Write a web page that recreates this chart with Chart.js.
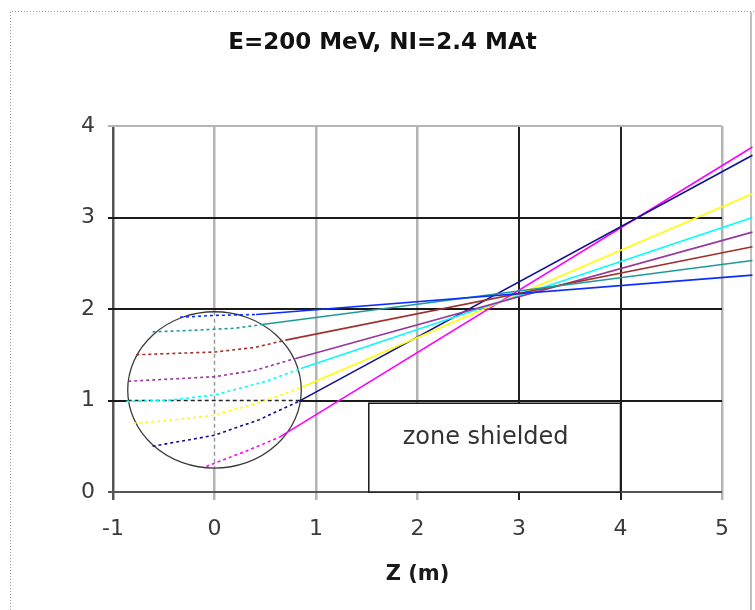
<!DOCTYPE html>
<html>
<head>
<meta charset="utf-8">
<title>E=200 MeV, NI=2.4 MAt</title>
<script src="https://cdn.jsdelivr.net/npm/chart.js@4.4.1/dist/chart.umd.min.js"></script>
<style>
    html, body { margin: 0; padding: 0; background: #ffffff; }
    #wrap { width: 755px; height: 610px; }
</style>
</head>
<body>
<div id="wrap"><canvas id="trackChart" width="755" height="610"></canvas></div>
<script>
// ===================================
// DATA
// each track: points inside the magnet (dashed), last point = far end
// ===================================
const X_TICKS = [-1, 0, 1, 2, 3, 4, 5];
const Y_TICKS = [0, 1, 2, 3, 4];

const TRACK_BLUE    = [[-0.34, 1.91], [0.00, 1.93], [0.41, 1.94], [5.30, 2.37]];
const TRACK_TEAL    = [[-0.61, 1.75], [-0.15, 1.77], [0.20, 1.79], [0.47, 1.83], [5.30, 2.53]];
const TRACK_BROWN   = [[-0.77, 1.50], [0.00, 1.53], [0.40, 1.58], [0.70, 1.66], [5.30, 2.68]];
const TRACK_PURPLE  = [[-0.85, 1.21], [0.00, 1.26], [0.40, 1.33], [0.80, 1.46], [5.30, 2.84]];
const TRACK_CYAN    = [[-0.87, 0.99], [-0.47, 1.00], [0.00, 1.06], [0.51, 1.21], [0.85, 1.35], [5.30, 3.00]];
const TRACK_YELLOW  = [[-0.80, 0.75], [-0.38, 0.79], [0.00, 0.84], [0.51, 1.00], [0.87, 1.15], [5.30, 3.26]];
const TRACK_NAVY    = [[-0.61, 0.50], [0.00, 0.62], [0.44, 0.79], [0.83, 0.99], [5.30, 3.68]];
const TRACK_MAGENTA = [[-0.08, 0.28], [0.34, 0.46], [0.64, 0.60], [5.30, 3.77]];

const TRACKS = [TRACK_BLUE, TRACK_TEAL, TRACK_BROWN, TRACK_PURPLE,
                TRACK_CYAN, TRACK_YELLOW, TRACK_NAVY, TRACK_MAGENTA];
const TRACK_COLORS = ['#0a2cff', '#1f9a9a', '#a0302c', '#98389c',
                      '#00ffff', '#ffff00', '#101090', '#ff00ff'];

// magnet (circle) and shielded zone, in metres
const MAGNET_CENTER = [0, 1.115];
const MAGNET_RADIUS = 0.855;
const ZONE_X = [1.52, 4.0];
const ZONE_Y = [0, 0.97];
const ZONE_TEXT = 'zone shielded';

const FONT = 'DejaVu Sans';

// grid colours: some lines black, others light gray
function xGridColor(v) {
    if (v === -1) return '#555555';
    if (v === 3 || v === 4) return '#222222';
    return '#b4b4b4';
}
function yGridColor(v) {
    if (v === 0) return '#555555';
    if (v === 4) return '#b4b4b4';
    return '#1a1a1a';
}

// ===================================
// Plugin: frame, magnet circle, shielded zone
// ===================================
const drawingPlugin = {
    id: 'drawings',
    beforeDraw(chart) {
        const ctx = chart.ctx;
        ctx.save();
        ctx.fillStyle = '#ffffff';
        ctx.fillRect(0, 0, chart.width, chart.height);
        // dotted outer frame (top + left), plain gray right edge
        ctx.strokeStyle = '#9a9a9a';
        ctx.lineWidth = 1;
        ctx.setLineDash([1, 2]);
        ctx.beginPath();
        ctx.moveTo(10.5, chart.height);
        ctx.lineTo(10.5, 11.5);
        ctx.lineTo(chart.width, 11.5);
        ctx.stroke();
        ctx.setLineDash([]);
        ctx.strokeStyle = '#c0c0c0';
        ctx.lineWidth = 2;
        ctx.beginPath();
        ctx.moveTo(751, 12);
        ctx.lineTo(751, chart.height);
        ctx.stroke();
        ctx.restore();
    },
    beforeDatasetsDraw(chart) {
        const ctx = chart.ctx;
        const xs = chart.scales.x;
        const ys = chart.scales.y;

        // shielded zone box
        const bx0 = xs.getPixelForValue(ZONE_X[0]);
        const bx1 = xs.getPixelForValue(ZONE_X[1]);
        const by0 = ys.getPixelForValue(ZONE_Y[1]);
        const by1 = ys.getPixelForValue(ZONE_Y[0]);
        ctx.save();
        ctx.fillStyle = '#ffffff';
        ctx.fillRect(bx0, by0, bx1 - bx0, by1 - by0);
        ctx.strokeStyle = '#1a1a1a';
        ctx.lineWidth = 1.5;
        ctx.strokeRect(bx0, by0, bx1 - bx0, by1 - by0);
        ctx.fillStyle = '#333333';
        ctx.font = '24px "' + FONT + '"';
        ctx.textAlign = 'center';
        ctx.textBaseline = 'middle';
        ctx.fillText(ZONE_TEXT, (bx0 + bx1) / 2 - 9, ys.getPixelForValue(0.59));
        ctx.restore();

        // magnet circle
        const cx = xs.getPixelForValue(MAGNET_CENTER[0]);
        const cy = ys.getPixelForValue(MAGNET_CENTER[1]);
        const rx = xs.getPixelForValue(MAGNET_RADIUS) - xs.getPixelForValue(0);
        const ry = ys.getPixelForValue(0) - ys.getPixelForValue(MAGNET_RADIUS);
        ctx.save();
        ctx.beginPath();
        ctx.ellipse(cx, cy, rx, ry, 0, 0, Math.PI * 2);
        ctx.fillStyle = '#ffffff';
        ctx.fill();
        ctx.clip();
        // dashed axes inside the magnet
        ctx.lineWidth = 1.5;
        ctx.setLineDash([4, 3]);
        ctx.strokeStyle = '#9a9a9a';
        ctx.beginPath();
        ctx.moveTo(xs.getPixelForValue(0), cy - ry);
        ctx.lineTo(xs.getPixelForValue(0), cy + ry);
        ctx.stroke();
        ctx.strokeStyle = '#222222';
        ctx.beginPath();
        ctx.moveTo(cx - rx, ys.getPixelForValue(1));
        ctx.lineTo(cx + rx, ys.getPixelForValue(1));
        ctx.stroke();
        ctx.restore();

        ctx.save();
        ctx.beginPath();
        ctx.ellipse(cx, cy, rx, ry, 0, 0, Math.PI * 2);
        ctx.strokeStyle = '#3a3a3a';
        ctx.lineWidth = 1.3;
        ctx.stroke();
        ctx.restore();
    }
};

// ===================================
// Build datasets from the tracks
// =================================== */
const datasets = TRACKS.map(function (track, i) {
    const last = track.length - 1;
    return {
        data: track.map(p => ({ x: p[0], y: p[1] })),
        showLine: true,
        borderColor: TRACK_COLORS[i],
        backgroundColor: TRACK_COLORS[i],
        borderWidth: 1.6,
        pointRadius: 0,
        tension: 0,
        clip: false,
        segment: {
            // inside the magnet the tracks are dashed
            borderDash: ctx => ctx.p1DataIndex < last ? [3, 3] : undefined
        }
    };
});

new Chart(document.getElementById('trackChart'), {
    type: 'scatter',
    data: { datasets: datasets },
    plugins: [drawingPlugin],
    options: {
        responsive: false,
        animation: false,
        layout: { padding: { left: 43, right: 33, top: 0, bottom: 0 } },
        plugins: {
            legend: { display: false },
            tooltip: { enabled: false },
            title: {
                display: true,
                text: 'E=200 MeV, NI=2.4 MAt',
                color: '#111111',
                font: { family: FONT, size: 23, weight: 'bold' },
                padding: { top: 29.5, bottom: 68.9 }
            }
        },
        scales: {
            x: {
                type: 'linear',
                min: X_TICKS[0],
                max: X_TICKS[X_TICKS.length - 1],
                afterBuildTicks: s => { s.ticks = X_TICKS.map(v => ({ value: v })); },
                afterFit: s => { s.height = 118; },
                border: { display: false },
                grid: {
                    color: c => xGridColor(c.tick.value),
                    lineWidth: c => (c.tick.value === 3 || c.tick.value === 4) ? 2 : 2.5,
                    tickLength: 8
                },
                ticks: {
                    color: '#3a3a3a',
                    padding: 16,
                    font: { family: FONT, size: 22 }
                },
                title: {
                    display: true,
                    text: 'Z (m)',
                    color: '#1a1a1a',
                    font: { family: FONT, size: 21, weight: 'bold' },
                    padding: { top: 0, bottom: 23 }
                }
            },
            y: {
                type: 'linear',
                min: Y_TICKS[0],
                max: Y_TICKS[Y_TICKS.length - 1],
                afterBuildTicks: s => { s.ticks = Y_TICKS.map(v => ({ value: v })); },
                afterFit: s => { s.width = 70; },
                border: { display: false },
                grid: {
                    color: c => yGridColor(c.tick.value),
                    lineWidth: 2,
                    tickLength: 5
                },
                ticks: {
                    color: '#3a3a3a',
                    padding: 13,
                    font: { family: FONT, size: 22 }
                }
            }
        }
    }
});
</script>
</body>
</html>
